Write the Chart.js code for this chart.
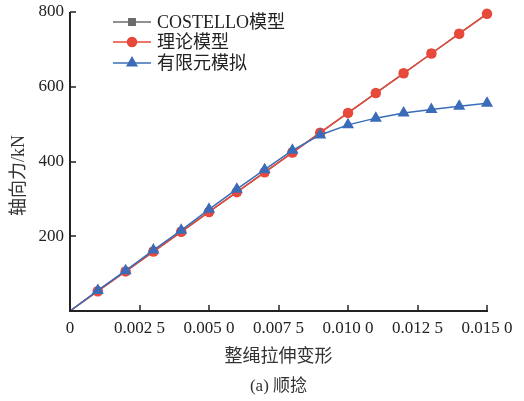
<!DOCTYPE html>
<html>
<head>
<meta charset="utf-8">
<script src="https://cdn.jsdelivr.net/npm/chart.js@4"></script>
<style>
  html, body { margin: 0; padding: 0; background: #fff; }
  #wrap { width: 524px; height: 401px; }
</style>
</head>
<body>
<div id="wrap"><canvas id="chart" width="524" height="401"></canvas></div>
<script>
// strain values (x) and axial force (kN)
const strain = [0, 0.001, 0.002, 0.003, 0.004, 0.005, 0.006, 0.007, 0.008, 0.009, 0.010, 0.011, 0.012, 0.013, 0.014, 0.015];
const costello = [0, 53, 106, 159, 212, 265, 318, 371, 424, 477, 530, 583, 636, 689, 742, 795];
const theory = [0, 53, 106, 159, 212, 265, 318, 371, 424, 477, 530, 583, 636, 689, 742, 795];
const fem = [0, 55, 108, 163, 216, 272, 326, 378, 430, 471, 498, 516, 530, 539, 548, 556];

const seriesNames = ['COSTELLO模型', '理论模型', '有限元模拟'];
const xTicks = [0, 0.0025, 0.005, 0.0075, 0.010, 0.0125, 0.015];
const xTickLabels = ['0', '0.002 5', '0.005 0', '0.007 5', '0.010 0', '0.012 5', '0.015 0'];
const yTicks = [0, 200, 400, 600, 800];
const yTickLabels = ['', '200', '400', '600', '800'];
const xTitle = '整绳拉伸变形';
const yTitle = '轴向力/kN';
const caption = '(a) 顺捻';

const serif = '"Liberation Serif", "Noto Sans CJK SC", serif';
const cjk = '"Noto Sans CJK SC", sans-serif';

function pts(ys) {
    return strain.map((x, i) => ({ x: x, y: ys[i] }));
}

// no marker on the origin point
function radius(r) {
    return ctx => (ctx.dataIndex === 0 ? 0 : r);
}

// axes with inward ticks, legend and titles drawn on top
const decor = {
    id: 'decor',
    afterDatasetsDraw(chart) {
        const ctx = chart.ctx;
        const a = chart.chartArea;
        const xs = chart.scales.x, ys = chart.scales.y;
        ctx.save();
        ctx.strokeStyle = '#222';
        ctx.lineWidth = 2;
        ctx.beginPath();
        ctx.moveTo(a.left, a.top);
        ctx.lineTo(a.left, a.bottom);
        ctx.lineTo(a.right + 1, a.bottom);
        ctx.stroke();
        ctx.lineWidth = 1.5;
        xTicks.forEach(v => {
            const px = Math.round(xs.getPixelForValue(v));
            ctx.beginPath();
            ctx.moveTo(px, a.bottom);
            ctx.lineTo(px, a.bottom - 6);
            ctx.stroke();
        });
        yTicks.forEach(v => {
            const py = Math.round(ys.getPixelForValue(v));
            ctx.beginPath();
            ctx.moveTo(a.left, py);
            ctx.lineTo(a.left + 6, py);
            ctx.stroke();
        });

        // legend
        const ds = chart.data.datasets;
        const rowY = [a.top + 10, a.top + 30, a.top + 51];
        ctx.font = '18px ' + serif;
        ctx.textBaseline = 'middle';
        ctx.textAlign = 'left';
        ds.forEach((d, i) => {
            const y = rowY[i];
            ctx.strokeStyle = d.borderColor;
            ctx.lineWidth = 1.5;
            ctx.beginPath();
            ctx.moveTo(a.left + 43, y);
            ctx.lineTo(a.left + 81, y);
            ctx.stroke();
            Chart.helpers.drawPoint(ctx, {
                pointStyle: d.pointStyle,
                radius: d.legendRadius,
                borderWidth: 1
            }, a.left + 62, y);
            ctx.fillStyle = d.pointBackgroundColor;
            ctx.fill();
            ctx.fillStyle = '#222';
            ctx.fillText(seriesNames[i], a.left + 87, y + 1);
        });

        // titles
        ctx.fillStyle = '#333';
        ctx.textAlign = 'center';
        ctx.font = '18px ' + cjk;
        ctx.fillText(xTitle, (a.left + a.right) / 2, a.bottom + 44);
        ctx.font = '17px ' + serif;
        ctx.fillText(caption, (a.left + a.right) / 2, a.bottom + 76);
        ctx.save();
        ctx.translate(19, (a.top + a.bottom) / 2 + 14);
        ctx.rotate(-Math.PI / 2);
        ctx.font = '18px ' + serif;
        ctx.fillText(yTitle, 0, 0);
        ctx.restore();
        ctx.restore();
    }
};

new Chart(document.getElementById('chart').getContext('2d'), {
    type: 'line',
    data: {
        datasets: [{
            label: seriesNames[0],
            data: pts(costello),
            borderColor: '#6b6b6b',
            backgroundColor: '#6b6b6b',
            pointBackgroundColor: '#6b6b6b',
            pointBorderColor: '#6b6b6b',
            pointStyle: 'rect',
            pointRadius: radius(4.5),
            legendRadius: 4.5,
            borderWidth: 1.5,
            order: 3
        }, {
            label: seriesNames[1],
            data: pts(theory),
            borderColor: '#e8493a',
            backgroundColor: '#e8493a',
            pointBackgroundColor: '#e8493a',
            pointBorderColor: '#e8493a',
            pointStyle: 'circle',
            pointRadius: radius(4.5),
            legendRadius: 4.5,
            borderWidth: 1.5,
            order: 2
        }, {
            label: seriesNames[2],
            data: pts(fem),
            borderColor: '#3a6cb8',
            backgroundColor: '#3a6cb8',
            pointBackgroundColor: '#3a6cb8',
            pointBorderColor: '#3a6cb8',
            pointStyle: 'triangle',
            pointRadius: radius(5.5),
            legendRadius: 5.5,
            borderWidth: 1.5,
            order: 1
        }]
    },
    options: {
        responsive: false,
        animation: false,
        clip: false,
        layout: { padding: { left: 0, right: 37, top: 12, bottom: 0 } },
        plugins: {
            legend: { display: false },
            tooltip: { enabled: false }
        },
        scales: {
            x: {
                type: 'linear',
                min: 0,
                max: 0.015,
                afterFit: s => { s.height = 90; s.paddingLeft = 0; s.paddingRight = 0; },
                afterBuildTicks: s => { s.ticks = xTicks.map(v => ({ value: v })); },
                grid: { display: false, drawTicks: false },
                border: { display: false },
                ticks: {
                    padding: 7,
                    color: '#222',
                    font: { family: serif, size: 17 },
                    maxRotation: 0,
                    autoSkip: false,
                    callback: (v, i) => xTickLabels[i]
                }
            },
            y: {
                min: 0,
                max: 800,
                afterFit: s => { s.width = 70; s.paddingTop = 0; s.paddingBottom = 0; },
                afterBuildTicks: s => { s.ticks = yTicks.map(v => ({ value: v })); },
                grid: { display: false, drawTicks: false },
                border: { display: false },
                ticks: {
                    padding: 6,
                    color: '#222',
                    font: { family: serif, size: 17 },
                    callback: (v, i) => yTickLabels[i]
                }
            }
        }
    },
    plugins: [decor]
});
</script>
</body>
</html>
